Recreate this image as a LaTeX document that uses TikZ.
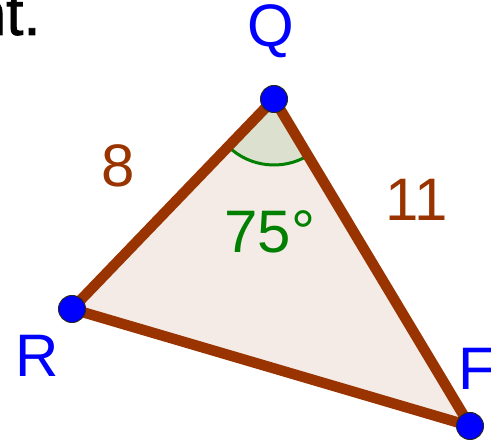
\documentclass[tikz,border=0pt]{standalone}
\usepackage{fontspec}
\setmainfont{Liberation Sans}
\newfontfamily\heavysans[FakeBold=1.2]{Liberation Sans}
\definecolor{ggbrown}{HTML}{993300}
\definecolor{ggfill}{HTML}{F5EBE6}
\definecolor{gganglefill}{HTML}{DCE0CF}
\definecolor{gggreen}{HTML}{007F00}
\definecolor{ggblue}{HTML}{0000FF}
\tikzset{
  ptdot/.style={circle,fill=ggblue,draw=black!85,line width=1pt,minimum size=27pt,inner sep=0pt},
  side/.style={draw=ggbrown,line width=10.5pt,line join=round,line cap=round},
  ptlabel/.style={text=ggblue,font=\fontsize{60}{72}\selectfont,inner sep=0pt},
  sidelabel/.style={text=ggbrown,font=\fontsize{60}{72}\selectfont,inner sep=0pt},
  anglelabel/.style={text=gggreen,font=\fontsize{60}{72}\selectfont,inner sep=0pt}
}
\begin{document}
\begin{tikzpicture}[x=1pt,y=-1pt]
\useasboundingbox (0,0) rectangle (491,446);
\clip (0,0) rectangle (491,446);
\coordinate (q) at (274,99);
\coordinate (r) at (72,309);
\coordinate (f) at (470,426);
% triangle fill
\fill[ggfill] (q) -- (r) -- (f) -- cycle;
% angle wedge
\fill[gganglefill] (q) -- ++(59.06:66) arc[start angle=59.06,end angle=133.9,radius=66] -- cycle;
\draw[gggreen,line width=3pt] (q) ++(59.06:66) arc[start angle=59.06,end angle=133.9,radius=66];
% sides
\draw[side] (q) -- (r) -- (f) -- cycle;
% points
\node[ptdot] (Q) at (q) {};
\node[ptdot] (R) at (r) {};
\node[ptdot] (F) at (f) {};
% labels
\node[ptlabel,anchor=base] (lq) at (271,47) {Q};
\node[ptlabel,anchor=base] (lr) at (37,377) {R};
\node[ptlabel,anchor=base west] (lf) at (458,390) {F};
\node[sidelabel,anchor=base] (l8) at (118,187) {8};
\node[sidelabel,anchor=base] (l11) at (417,221) {11};
\node[anglelabel,anchor=base] (la) at (270,253) {75°};
\node[inner sep=0pt,anchor=base west,font=\heavysans\fontsize{62}{72}\selectfont] (lt) at (-28.5,35) {nt.};
\end{tikzpicture}
\end{document}
